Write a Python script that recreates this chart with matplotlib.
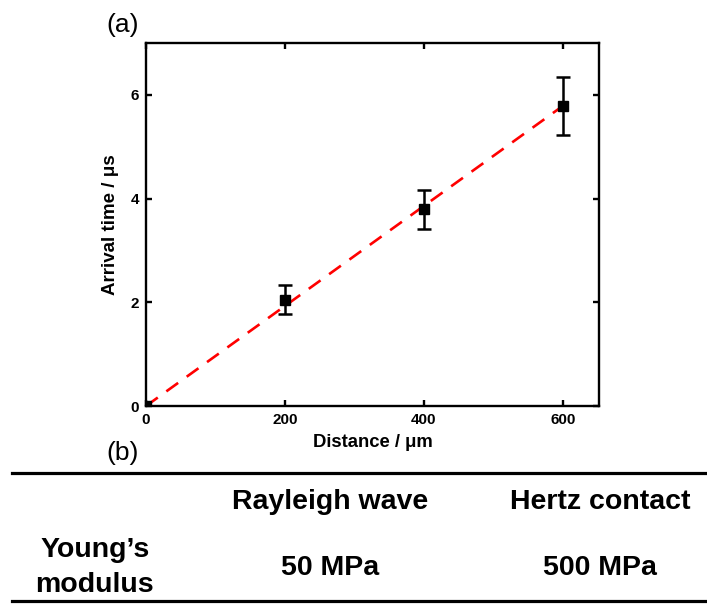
import numpy as np
import matplotlib
matplotlib.use("Agg")
import matplotlib.pyplot as plt
from matplotlib.lines import Line2D

# Measured arrival times vs. propagation distance
distance = np.array([0, 200, 400, 600])          # µm
arrival = np.array([0.0, 2.05, 3.79, 5.79])      # µs
arrival_err = np.array([0.0, 0.28, 0.37, 0.56])  # µs

xticks = [0, 200, 400, 600]
yticks = [0, 2, 4, 6]

# Young's modulus comparison table
table_header = ["Rayleigh wave", "Hertz contact"]
table_row_label = "Young\u2019s\nmodulus"
table_values = ["50 MPa", "500 MPa"]

plt.rcParams["font.family"] = ["Liberation Sans", "DejaVu Sans"]

fig = plt.figure(figsize=(7.07, 6.06), dpi=100)
ax = fig.add_axes([0.2065, 0.330, 0.6405, 0.599])

# Linear fit through the origin
slope = np.sum(distance * arrival) / np.sum(distance ** 2)
fit_x = np.array([distance.min(), distance.max()])
ax.plot(fit_x, slope * fit_x, color="#ff0000", lw=1.9,
        linestyle=(0, (5.5, 4)), zorder=2)

ax.errorbar(distance, arrival, yerr=arrival_err, fmt="s", color="black",
            ms=7, ecolor="black", elinewidth=1.8, capsize=5, capthick=1.8,
            zorder=3)

ax.set_xlim(0, 652)
ax.set_ylim(0, 7.0)
ax.set_xticks(xticks)
ax.set_yticks(yticks)
for s in ax.spines.values():
    s.set_linewidth(1.7)
ax.tick_params(direction="in", length=4, width=1.7, top=True, right=True,
               labelsize=11, pad=5)
for lab in ax.get_xticklabels() + ax.get_yticklabels():
    lab.set_fontweight("bold")
ax.set_xlabel("Distance / \u03bcm", fontsize=13.3, fontweight="bold", labelpad=5)
ax.set_ylabel("Arrival time / \u03bcs", fontsize=13.5, fontweight="bold", labelpad=8)

fig.text(0.173, 0.959, "(a)", fontsize=19, ha="center", va="center")
fig.text(0.173, 0.252, "(b)", fontsize=19, ha="center", va="center")

# Table rules
fig.add_artist(Line2D([0.017, 1.0], [0.220, 0.220], color="black", lw=2.3,
                      transform=fig.transFigure))
fig.add_artist(Line2D([0.017, 1.0], [0.008, 0.008], color="black", lw=2.3,
                      transform=fig.transFigure))

col_x = [0.467, 0.849]
for x, h in zip(col_x, table_header):
    fig.text(x, 0.160, h, fontsize=20.5, fontweight="bold", ha="center",
             va="baseline")
for x, v in zip(col_x, table_values):
    fig.text(x, 0.051, v, fontsize=20.5, fontweight="bold", ha="center",
             va="baseline")
label_lines = table_row_label.split("\n")
fig.text(0.134, 0.081, label_lines[0], fontsize=20.5, fontweight="bold",
         ha="center", va="baseline")
fig.text(0.134, 0.023, label_lines[1], fontsize=20.5, fontweight="bold",
         ha="center", va="baseline")

fig.savefig("out.png", dpi=100)
